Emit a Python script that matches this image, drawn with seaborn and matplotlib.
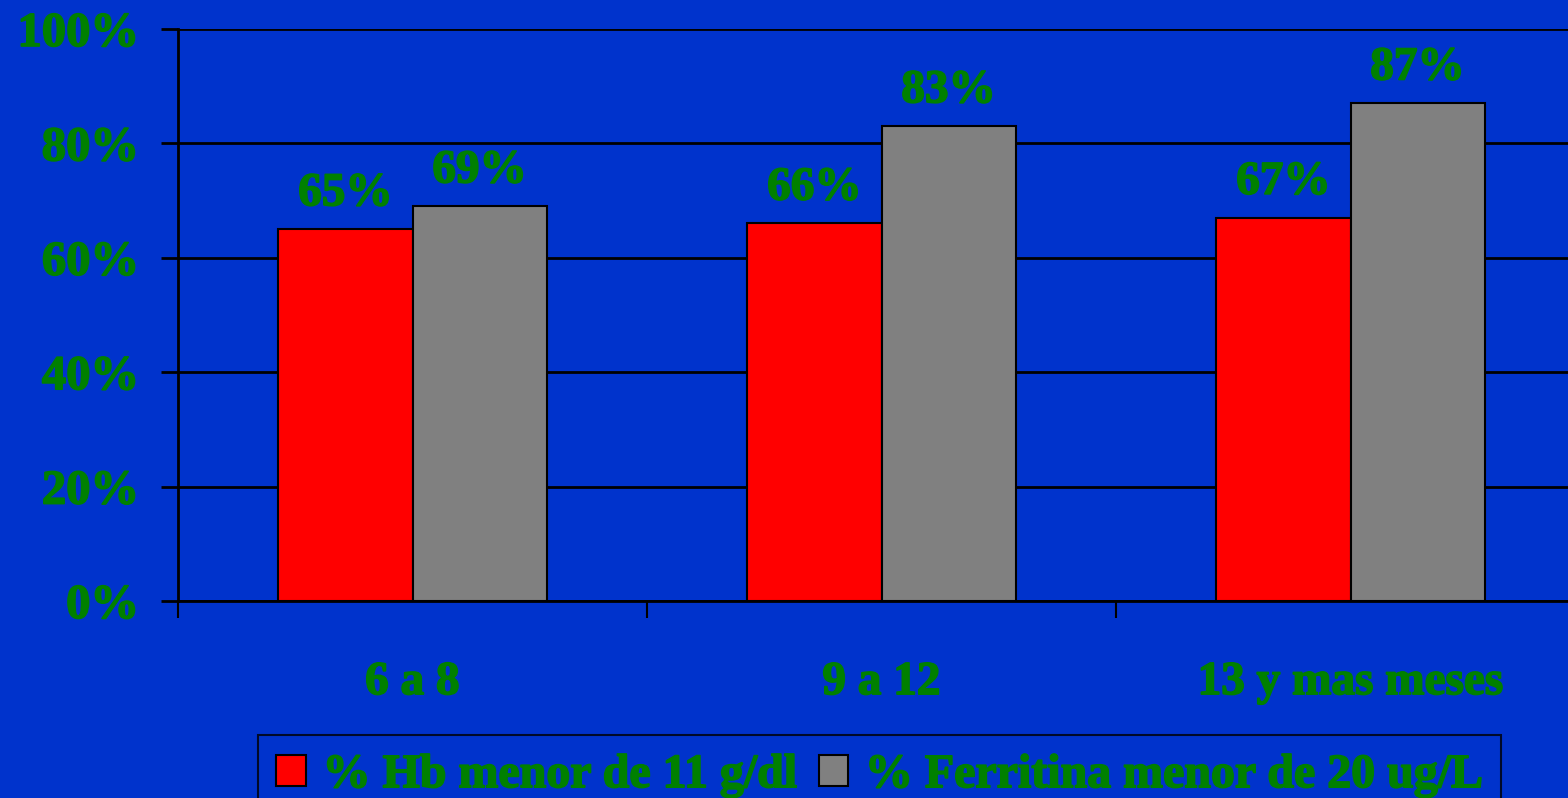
import matplotlib
matplotlib.use("Agg")
import matplotlib.pyplot as plt
import matplotlib.patheffects as pe
import seaborn as sns
import pandas as pd
from matplotlib.ticker import FixedLocator, NullFormatter

# Age groups and the two anaemia indicators (percent of children)
categories = ["6 a 8", "9 a 12", "13 y mas meses"]
series_names = ["% Hb menor de 11 g/dl", "% Ferritina menor de 20 ug/L"]
hb_values = [65, 66, 67]
ferritina_values = [69, 83, 87]
y_ticks = [0, 20, 40, 60, 80, 100]

BLUE = "#0033CC"
GREEN = "#008000"
bar_colors = ["#FF0000", "#808080"]

df = pd.DataFrame({
    "grupo": categories * 2,
    "serie": [series_names[0]] * 3 + [series_names[1]] * 3,
    "valor": hb_values + ferritina_values,
})

sns.set_theme(style="white")
plt.rcParams["font.family"] = ["Liberation Serif", "DejaVu Serif"]
plt.rcParams["font.weight"] = "bold"

# slightly heavier strokes for the green lettering
heavy = [pe.withStroke(linewidth=1.2, foreground=GREEN)]

fig = plt.figure(figsize=(15.68, 7.98), dpi=100, facecolor=BLUE)
ax = fig.add_axes([178 / 1568, 1 - 601 / 798, 1407 / 1568, 572 / 798])
ax.set_facecolor(BLUE)

sns.barplot(data=df, x="grupo", y="valor", hue="serie", order=categories,
            hue_order=series_names, palette=bar_colors, width=0.572,
            edgecolor="black", linewidth=1.5, saturation=1, ax=ax, legend=False)

ax.set_xlim(-0.5, 2.5)
ax.set_ylim(0, 100)
ax.set_xlabel("")
ax.set_ylabel("")

# y axis: percentage ticks with black gridlines
ax.set_yticks(y_ticks)
ax.set_yticklabels([f"{t}%" for t in y_ticks])
ax.yaxis.grid(True, color="black", linewidth=2)
ax.set_axisbelow(True)
ax.tick_params(axis="y", direction="out", length=12, width=2, color="black",
               labelsize=35, labelcolor=GREEN, pad=16, left=True)

# x axis: ticks between groups, labels at group centres
ax.xaxis.set_major_locator(FixedLocator([-0.5, 0.5, 1.5, 2.5]))
ax.xaxis.set_major_formatter(NullFormatter())
ax.xaxis.set_minor_locator(FixedLocator([0, 1, 2]))
ax.set_xticklabels(categories, minor=True)
ax.tick_params(axis="x", which="major", direction="out", length=12, width=1.5,
               color="black", bottom=True)
ax.tick_params(axis="x", which="minor", length=0, labelsize=34,
               labelcolor=GREEN, pad=44)

for side in ["top", "right"]:
    ax.spines[side].set_visible(False)
for side in ["left", "bottom"]:
    ax.spines[side].set_color("black")
    ax.spines[side].set_linewidth(2)

for container in ax.containers:
    labels = ax.bar_label(container, fmt="%d%%", padding=10, fontsize=34,
                          color=GREEN, fontweight="bold")
    for t in labels:
        t.set_path_effects(heavy)

for t in ax.get_yticklabels() + ax.get_xticklabels(minor=True):
    t.set_path_effects(heavy)

handles = [plt.Rectangle((0, 0), 1, 1, facecolor=c, edgecolor="black", linewidth=1.5)
           for c in bar_colors]
leg = fig.legend(handles, series_names, loc="upper left",
                 bbox_to_anchor=(258 / 1568, 1 - 735 / 798), ncol=2,
                 frameon=True, fancybox=False, fontsize=34.5,
                 handlelength=0.62, handleheight=0.62, handletextpad=0.35,
                 columnspacing=0.45, borderpad=0.38, borderaxespad=0)
leg.get_frame().set_facecolor(BLUE)
leg.get_frame().set_edgecolor("black")
leg.get_frame().set_linewidth(1.5)
for t in leg.get_texts():
    t.set_color(GREEN)
    t.set_fontweight("bold")
    t.set_path_effects(heavy)

fig.savefig("out.png", dpi=100, facecolor=BLUE)
